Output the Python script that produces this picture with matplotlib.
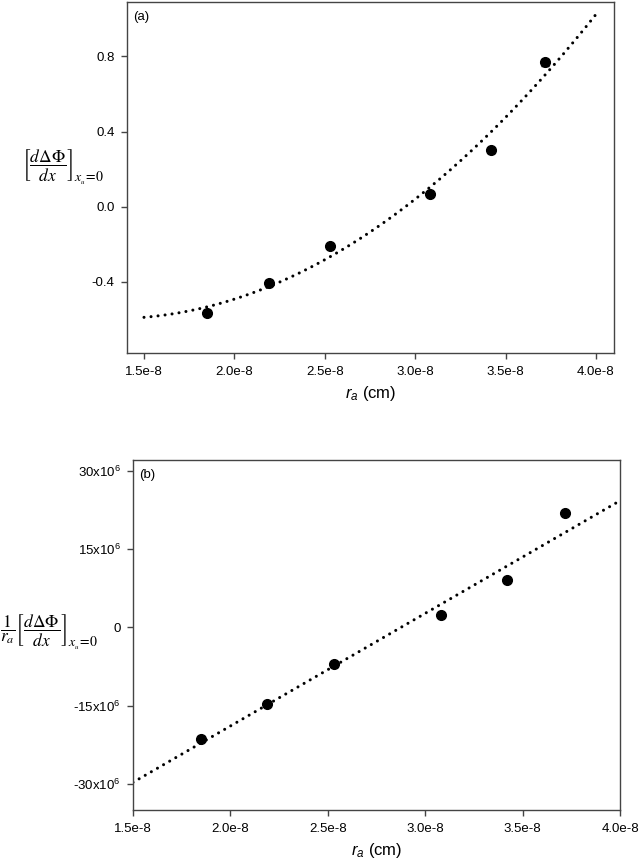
import matplotlib
matplotlib.use('Agg')
import matplotlib.pyplot as plt
import numpy as np

plt.rcParams['font.family'] = ['Liberation Sans', 'DejaVu Sans']
plt.rcParams['mathtext.fontset'] = 'custom'
plt.rcParams['mathtext.rm'] = 'Liberation Sans'
plt.rcParams['mathtext.it'] = 'Liberation Sans:italic'
plt.rcParams['axes.unicode_minus'] = False

# measured radii (cm)
r_a = np.array([1.85, 2.19, 2.53, 3.08, 3.42, 3.72]) * 1e-8

# panel (a): slope at x_u = 0
slope = [-0.565, -0.405, -0.208, 0.069, 0.299, 0.768]
slope_err = [0.012, 0.012, 0.010, 0.010, 0.012, 0.018]
# quadratic fit, in u = (r - 1.5e-8)/1e-8
fit_a = [0.2258, 0.081, -0.59]

# panel (b): slope / r_a
scaled = [-21.3e6, -14.6e6, -7.1e6, 2.3e6, 9.0e6, 22.0e6]
scaled_err = [0.5e6, 0.4e6, 0.4e6, 0.3e6, 0.3e6, 0.4e6]
# linear fit
fit_b = [21.6e6, -29.7e6]

xticks = np.array([1.5, 2.0, 2.5, 3.0, 3.5, 4.0]) * 1e-8
xticklabels = ['1.5e-8', '2.0e-8', '2.5e-8', '3.0e-8', '3.5e-8', '4.0e-8']
yticks_a = [-0.4, 0.0, 0.4, 0.8]
yticklabels_a = ['-0.4', '0.0', '0.4', '0.8']
yticks_b = [-30e6, -15e6, 0, 15e6, 30e6]
yticklabels_b = ['-30x10$^6$', '-15x10$^6$', '0', '15x10$^6$', '30x10$^6$']

spine_col = '#444444'
dots = (0, (0.01, 2.3))
W, H = 640, 865


def style(ax):
    for s in ax.spines.values():
        s.set_color(spine_col)
        s.set_linewidth(1.0)
    ax.tick_params(direction='out', length=4, width=1.0, color=spine_col,
                   labelsize=9.5, top=False, right=False, pad=5)


def bracket_label(fig, x, y, s):
    # main bracket, then the x_u=0 subscript hung on its lower right corner
    t = fig.text(x/W, 1-y/H, s, math_fontfamily='stix', fontsize=12.5,
                 ha='left', va='center')
    fig.canvas.draw()
    bb = t.get_window_extent()
    fig.text((bb.x1 + 1)/W, (bb.y0 + 1)/H, r'$x_{_u}\!=\!0$',
             math_fontfamily='stix', fontsize=10, ha='left', va='baseline')


fig = plt.figure(figsize=(6.4, 8.65), dpi=100)

# ---- (a)
ax1 = fig.add_axes([127/W, 1-353/H, 487/W, 351/H])
u = np.linspace(0, 2.5, 200)
ax1.plot(1.5e-8 + u*1e-8, np.polyval(fit_a, u), color='black', lw=2.2,
         linestyle=dots, dash_capstyle='round')
ax1.errorbar(r_a, slope, yerr=slope_err, fmt='o', color='black', ms=7,
             capsize=3, elinewidth=1, capthick=1)
ax1.set_xlim(1.406e-8, 4.1e-8)
ax1.set_ylim(-0.78, 1.09)
ax1.set_xticks(xticks)
ax1.set_xticklabels(xticklabels)
ax1.set_yticks(yticks_a)
ax1.set_yticklabels(yticklabels_a)
style(ax1)
ax1.text(0.012, 0.975, '(a)', transform=ax1.transAxes, fontsize=9.5,
         va='top', ha='left')
ax1.set_xlabel(r'$r_a$ (cm)', fontsize=12, labelpad=5)

# ---- (b)
ax2 = fig.add_axes([133/W, 1-810/H, 487/W, 350/H])
ax2.plot(1.5e-8 + u*1e-8, np.polyval(fit_b, u), color='black', lw=2.2,
         linestyle=dots, dash_capstyle='round')
ax2.errorbar(r_a, scaled, yerr=scaled_err, fmt='o', color='black', ms=7,
             capsize=3, elinewidth=1, capthick=1)
ax2.set_xlim(1.5e-8, 4.0e-8)
ax2.set_ylim(-35e6, 32.1e6)
ax2.set_xticks(xticks)
ax2.set_xticklabels(xticklabels)
ax2.set_yticks(yticks_b)
ax2.set_yticklabels(yticklabels_b)
style(ax2)
ax2.text(0.012, 0.975, '(b)', transform=ax2.transAxes, fontsize=9.5,
         va='top', ha='left')
ax2.set_xlabel(r'$r_a$ (cm)', fontsize=12, labelpad=5)

bracket_label(fig, 22, 165, r'$\left[\dfrac{d\Delta\Phi}{dx}\right]$')
bracket_label(fig, 0, 630,
              r'$\dfrac{1}{r_a}\left[\dfrac{d\Delta\Phi}{dx}\right]$')

fig.savefig('out.png', dpi=100)
